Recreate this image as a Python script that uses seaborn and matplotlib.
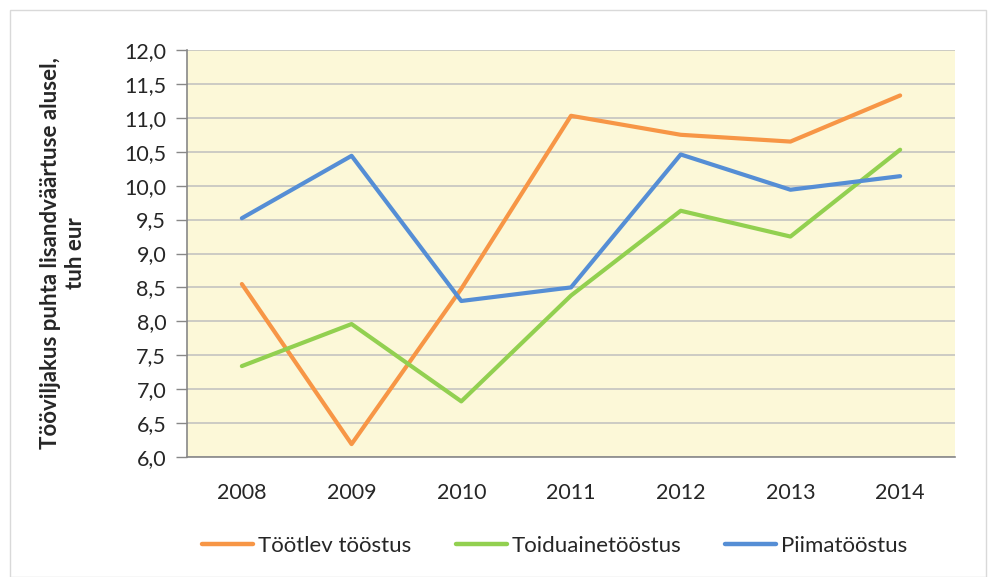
import pandas as pd
import matplotlib.pyplot as plt
import seaborn as sns
from matplotlib.patches import Rectangle

# values
years = ["2008", "2009", "2010", "2011", "2012", "2013", "2014"]
tootlev = [8.55, 6.19, 8.48, 11.03, 10.75, 10.65, 11.33]
toiduaine = [7.34, 7.96, 6.82, 8.38, 9.63, 9.25, 10.53]
piima = [9.52, 10.44, 8.30, 8.50, 10.46, 9.94, 10.14]
series_names = ["Töötlev tööstus", "Toiduainetööstus", "Piimatööstus"]
colors = ["#F79646", "#92D050", "#558ED5"]

rows = []
for name, vals in zip(series_names, [tootlev, toiduaine, piima]):
    for i, v in enumerate(vals):
        rows.append({"pos": i, "value": v, "series": name})
df = pd.DataFrame(rows)

sns.set_style("white")
plt.rcParams["font.family"] = ["Lato", "DejaVu Sans"]

fig = plt.figure(figsize=(9.96, 5.77), dpi=100)
ax = fig.add_axes([187 / 996, 1 - 457 / 577, (955 - 187) / 996, (457 - 50) / 577])

# outer chart frame
fig.patches.append(Rectangle((10 / 996, 0.0), 976 / 996, 1 - 10 / 577,
                             transform=fig.transFigure, fill=False,
                             edgecolor="#D9D9D9", linewidth=1))

ax.set_facecolor("#FCF8D8")
sns.lineplot(data=df, x="pos", y="value", hue="series", palette=colors,
             hue_order=series_names, linewidth=3.0, ax=ax, legend=False)

ax.set_xlim(-0.5, 6.5)
ax.set_ylim(6.0, 12.0)
yt = [6.0 + 0.5 * k for k in range(13)]
ax.set_yticks(yt)
ax.set_yticklabels([f"{t:.1f}".replace(".", ",") for t in yt], fontsize=15.5)
ax.yaxis.grid(True, color="#BFBFBF", linewidth=1.1)
ax.set_axisbelow(True)

ax.set_xticks(range(len(years)))
ax.set_xticklabels(years, fontsize=15.5)
ax.set_xticks([i - 0.5 for i in range(len(years) + 1)], minor=True)
ax.tick_params(axis="x", which="major", length=0, pad=19)
ax.tick_params(axis="x", which="minor", length=6, color="#888888", width=1)
ax.tick_params(axis="y", length=8, color="#888888", width=1, left=True, pad=7)

for s in ["top", "right"]:
    ax.spines[s].set_visible(False)
for s in ["left", "bottom"]:
    ax.spines[s].set_color("#888888")
    ax.spines[s].set_linewidth(1.2)

ax.set_xlabel("")
ax.set_ylabel("Tööviljakus puhta lisandväärtuse alusel,\ntuh eur",
              fontsize=16, fontweight="bold", linespacing=1.2)
ax.yaxis.set_label_coords(-0.132, 0.5)

handles = [plt.Line2D([], [], color=c, linewidth=3.2) for c in colors]
fig.legend(handles, series_names, loc="center", bbox_to_anchor=(0.557, 1 - 546 / 577),
           ncol=3, frameon=False, fontsize=16, handlelength=2.3, handletextpad=0.2,
           columnspacing=2.0)

fig.savefig("out.png", dpi=100)
